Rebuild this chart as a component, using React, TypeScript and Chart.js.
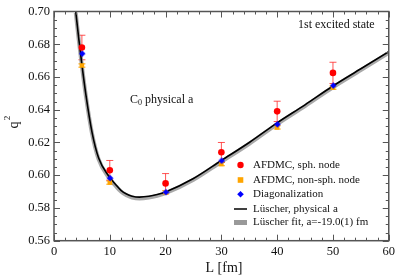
import React, { useEffect, useRef } from "react";
import { Chart, registerables } from "chart.js";

Chart.register(...registerables);

// AFDMC / diagonalization points
const L_POINTS = [5, 10, 20, 30, 40, 50];
const Q2_SPH = [0.678, 0.603, 0.595, 0.614, 0.639, 0.6625];
const ERR_SPH = [0.0075, 0.006, 0.006, 0.006, 0.0062, 0.0065];
const Q2_NONSPH = [0.667, 0.5955, 0.5895, 0.6068, 0.6292, 0.6535];
const ERR_NONSPH = [0.001, 0.001, 0.001, 0.001, 0.001, 0.001];
const Q2_DIAG = [0.6744, 0.5984, 0.5898, 0.609, 0.6312, 0.6549];

// Lüscher curve (physical a)
const L_CURVE = [3.9, 4.4, 5.0, 5.7, 6.8, 8.0, 9.8, 11, 12, 13, 14, 15.3, 17, 18.5, 20, 25, 30, 35, 40, 45, 50, 55, 60];
const Q2_CURVE = [0.7, 0.6845, 0.6675, 0.6495, 0.6265, 0.6105, 0.5995, 0.5945, 0.5908, 0.5885, 0.5872, 0.5866, 0.5871, 0.5882, 0.5898, 0.598, 0.609, 0.62, 0.632, 0.643, 0.6545, 0.665, 0.6755];
// Lüscher fit band, a = -19.0(1) fm
const Q2_FIT = [0.6992, 0.6837, 0.6667, 0.6487, 0.6257, 0.6097, 0.5987, 0.5937, 0.59, 0.5877, 0.5864, 0.5858, 0.5863, 0.5874, 0.589, 0.5972, 0.6082, 0.6192, 0.6312, 0.6422, 0.6537, 0.6642, 0.6747];

const X_TICKS = [0, 10, 20, 30, 40, 50, 60];
const Y_TICKS = [0.56, 0.58, 0.6, 0.62, 0.64, 0.66, 0.68, 0.7];

const LEGEND_LABELS = [
  "AFDMC, sph. node",
  "AFDMC, non-sph. node",
  "Diagonalization",
  "Lüscher, physical a",
  "Lüscher fit, a=-19.0(1) fm",
];

const SERIF = "'Liberation Serif', 'DejaVu Serif', serif";
const RED = "#ff0000";
const ORANGE = "#ffa500";
const BLUE = "#0000ff";

function diamond(size: number): HTMLCanvasElement {
  const c = document.createElement("canvas");
  c.width = size * 2 + 2;
  c.height = size * 2 + 2;
  const g = c.getContext("2d")!;
  g.fillStyle = BLUE;
  g.beginPath();
  g.moveTo(size + 1, 1);
  g.lineTo(size * 2 + 1, size + 1);
  g.lineTo(size + 1, size * 2 + 1);
  g.lineTo(1, size + 1);
  g.closePath();
  g.fill();
  return c;
}

const customPlugin = {
  id: "custom",
  beforeDatasetsDraw(chart: any) {
    const ctx = chart.ctx;
    const xs = chart.scales.x;
    const ys = chart.scales.y;
    const bars = (vals: number[], errs: number[], color: string) => {
      ctx.save();
      ctx.strokeStyle = color;
      ctx.lineWidth = 1;
      vals.forEach((v, i) => {
        const x = xs.getPixelForValue(L_POINTS[i]);
        const y1 = ys.getPixelForValue(v + errs[i]);
        const y2 = ys.getPixelForValue(v - errs[i]);
        ctx.beginPath();
        ctx.moveTo(x, y1);
        ctx.lineTo(x, y2);
        ctx.moveTo(x - 3.5, y1);
        ctx.lineTo(x + 3.5, y1);
        ctx.moveTo(x - 3.5, y2);
        ctx.lineTo(x + 3.5, y2);
        ctx.stroke();
      });
      ctx.restore();
    };
    bars(Q2_NONSPH, ERR_NONSPH, ORANGE);
    bars(Q2_SPH, ERR_SPH, "rgba(255,40,40,0.8)");
  },
  afterDraw(chart: any) {
    const ctx = chart.ctx;
    const a = chart.chartArea;
    const xs = chart.scales.x;
    const ys = chart.scales.y;
    ctx.save();
    // frame
    ctx.strokeStyle = "#555";
    ctx.lineWidth = 1.5;
    ctx.strokeRect(a.left, a.top, a.right - a.left, a.bottom - a.top);
    // ticks
    ctx.lineWidth = 1;
    ctx.beginPath();
    for (let v = 0; v <= 60.001; v += 2) {
      const x = Math.round(xs.getPixelForValue(v)) + 0.5;
      const len = Math.abs(v % 10) < 0.01 ? 6 : 3;
      ctx.moveTo(x, a.bottom);
      ctx.lineTo(x, a.bottom - len);
      ctx.moveTo(x, a.top);
      ctx.lineTo(x, a.top + len);
    }
    for (let i = 0; i <= 28; i++) {
      const v = 0.56 + i * 0.005;
      const y = Math.round(ys.getPixelForValue(v)) + 0.5;
      const len = i % 4 === 0 ? 6 : 3;
      ctx.moveTo(a.left, y);
      ctx.lineTo(a.left + len, y);
      ctx.moveTo(a.right, y);
      ctx.lineTo(a.right - len, y);
    }
    ctx.stroke();

    // annotations
    ctx.fillStyle = "#111";
    ctx.textBaseline = "middle";
    ctx.textAlign = "left";
    ctx.font = `12px ${SERIF}`;
    ctx.fillText("1st excited state", 298, 25);
    ctx.fillText("C", 130, 100);
    const cw = ctx.measureText("C").width;
    ctx.font = `8px ${SERIF}`;
    ctx.fillText("0", 130 + cw, 103);
    const zw = ctx.measureText("0").width;
    ctx.font = `12px ${SERIF}`;
    ctx.fillText(" physical a", 130 + cw + zw, 100);

    // axis titles
    ctx.font = `14px ${SERIF}`;
    ctx.textAlign = "center";
    ctx.fillText("L [fm]", 224, 268);
    ctx.save();
    ctx.translate(14, 125);
    ctx.rotate(-Math.PI / 2);
    ctx.fillText("q", 0, 0);
    ctx.font = `9px ${SERIF}`;
    ctx.fillText("2", 7, -6);
    ctx.restore();

    // legend
    const lx = 240.5;
    const tx = 253;
    const rows = [165, 180, 194.3, 209, 222.5];
    ctx.font = `11px ${SERIF}`;
    ctx.textAlign = "left";
    rows.forEach((y, i) => {
      ctx.fillStyle = "#111";
      ctx.fillText(LEGEND_LABELS[i], tx, y);
    });
    ctx.fillStyle = RED;
    ctx.beginPath();
    ctx.arc(lx, rows[0], 3.2, 0, Math.PI * 2);
    ctx.fill();
    ctx.fillStyle = ORANGE;
    ctx.fillRect(lx - 2.8, rows[1] - 2.8, 5.6, 5.6);
    ctx.fillStyle = BLUE;
    ctx.beginPath();
    ctx.moveTo(lx, rows[2] - 3.3);
    ctx.lineTo(lx + 3.3, rows[2]);
    ctx.lineTo(lx, rows[2] + 3.3);
    ctx.lineTo(lx - 3.3, rows[2]);
    ctx.closePath();
    ctx.fill();
    ctx.strokeStyle = "#000";
    ctx.lineWidth = 1.5;
    ctx.beginPath();
    ctx.moveTo(234, rows[3]);
    ctx.lineTo(247, rows[3]);
    ctx.stroke();
    ctx.fillStyle = "#999";
    ctx.fillRect(234, rows[4] - 2.5, 13, 5);
    ctx.restore();
  },
};

export default function App() {
  const ref = useRef<HTMLCanvasElement | null>(null);
  useEffect(() => {
    if (!ref.current) return;
    const pts = (vals: number[]) => vals.map((v, i) => ({ x: L_POINTS[i], y: v }));
    const curve = (vals: number[]) => vals.map((v, i) => ({ x: L_CURVE[i], y: v }));
    const chart = new Chart(ref.current, {
      type: "scatter",
      data: {
        datasets: [
          {
            label: LEGEND_LABELS[0],
            data: pts(Q2_SPH),
            pointStyle: "circle",
            pointRadius: 3.3,
            backgroundColor: RED,
            borderWidth: 0,
            order: 1,
          },
          {
            label: LEGEND_LABELS[2],
            data: pts(Q2_DIAG),
            pointStyle: diamond(3.3) as any,
            pointRadius: 3.3,
            backgroundColor: BLUE,
            borderWidth: 0,
            order: 2,
          },
          {
            label: LEGEND_LABELS[1],
            data: pts(Q2_NONSPH),
            pointStyle: "rect",
            pointRadius: 3.2,
            backgroundColor: ORANGE,
            borderWidth: 0,
            order: 3,
          },
          {
            label: LEGEND_LABELS[3],
            data: curve(Q2_CURVE),
            showLine: true,
            pointRadius: 0,
            borderColor: "#000",
            borderWidth: 1.6,
            cubicInterpolationMode: "monotone",
            order: 4,
          } as any,
          {
            label: LEGEND_LABELS[4],
            data: curve(Q2_FIT),
            showLine: true,
            pointRadius: 0,
            borderColor: "rgba(140,140,140,0.75)",
            borderWidth: 4,
            cubicInterpolationMode: "monotone",
            order: 5,
          } as any,
        ],
      },
      options: {
        responsive: false,
        animation: false,
        layout: { padding: { top: 5.5, right: 7, left: 0, bottom: 0 }, autoPadding: false } as any,
        plugins: { legend: { display: false }, tooltip: { enabled: false } },
        scales: {
          x: {
            type: "linear",
            min: 0,
            max: 60,
            grid: { display: false, drawTicks: false },
            border: { display: false },
            afterBuildTicks: (s: any) => {
              s.ticks = X_TICKS.map((v) => ({ value: v }));
            },
            afterFit: (s: any) => {
              s.height = 35.3;
            },
            ticks: {
              padding: 4,
              color: "#111",
              font: { family: SERIF, size: 12.5 },
              maxRotation: 0,
              callback: (v: any) => String(v),
            },
          },
          y: {
            type: "linear",
            min: 0.56,
            max: 0.7,
            grid: { display: false, drawTicks: false },
            border: { display: false },
            afterBuildTicks: (s: any) => {
              s.ticks = Y_TICKS.map((v) => ({ value: v }));
            },
            afterFit: (s: any) => {
              s.width = 54;
            },
            ticks: {
              padding: 4,
              color: "#111",
              font: { family: SERIF, size: 12.5 },
              callback: (v: any) => Number(v).toFixed(2),
            },
          },
        },
      },
      plugins: [customPlugin],
    });
    return () => chart.destroy();
  }, []);
  return (
    <div style={{ position: "fixed", left: 0, top: 0, width: 399, height: 276, background: "#fff" }}>
      <canvas ref={ref} width={399} height={276} style={{ width: 399, height: 276 }} />
    </div>
  );
}
